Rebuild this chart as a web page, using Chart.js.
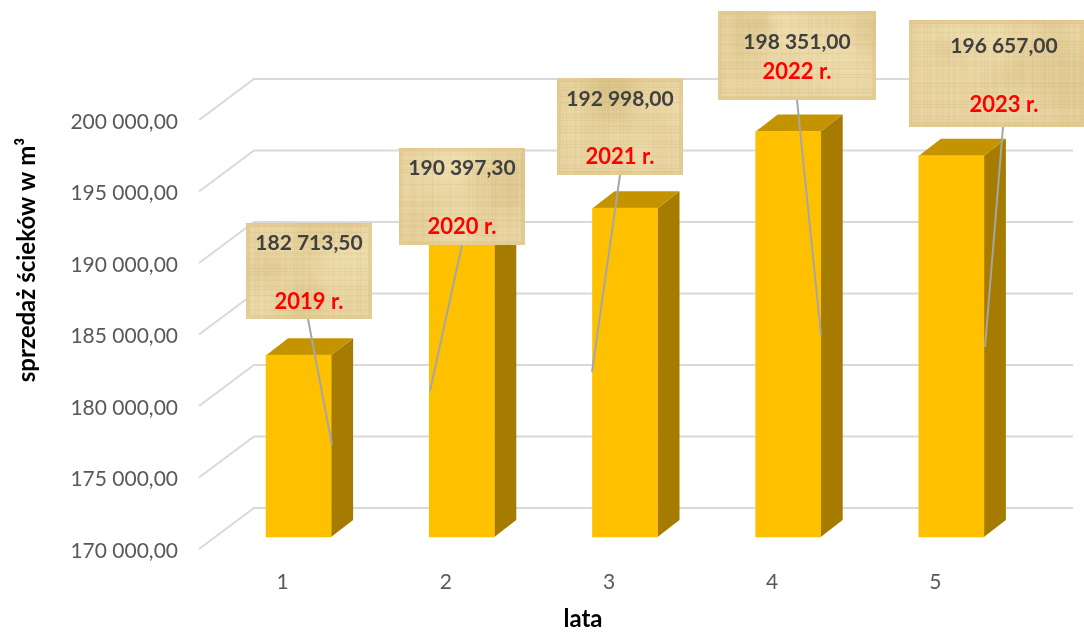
<!DOCTYPE html>
<html>
<head>
<meta charset="utf-8">
<style>
  html, body { margin: 0; padding: 0; background: #fff; }
  canvas { display: block; }
</style>
<script src="https://cdn.jsdelivr.net/npm/chart.js@4"></script>
</head>
<body>
<canvas id="chart" width="1084" height="632"></canvas>
<script>
// Data
const categories = ['1', '2', '3', '4', '5'];
const sales = [182713.5, 190397.3, 192998, 198351, 196657];
const valueLabels = ['182 713,50', '190 397,30', '192 998,00', '198 351,00', '196 657,00'];
const yearLabels = ['2019 r.', '2020 r.', '2021 r.', '2022 r.', '2023 r.'];
const yMin = 170000;
const yMax = 200000;
const yStep = 5000;
const yTitle = 'sprzedaż ścieków w m³';
const xTitle = 'lata';

// Callout layout, one per bar: box, text baselines, leader line
const calloutBoxes = [
  { x: 246, y: 223, w: 126, h: 96, textX: 309, valueY: 243, yearY: 302, from: [308, 319], to: [332, 445] },
  { x: 399, y: 148, w: 126, h: 97, textX: 462, valueY: 168, yearY: 227, from: [462, 245], to: [430, 391] },
  { x: 557, y: 78, w: 126, h: 97, textX: 620, valueY: 99, yearY: 157, from: [620, 175], to: [592, 372] },
  { x: 718, y: 11, w: 158, h: 89, textX: 797, valueY: 42, yearY: 72, from: [797, 100], to: [821, 335] },
  { x: 909, y: 20, w: 175, h: 107, textX: 1004, valueY: 46, yearY: 105, from: [1003, 127], to: [985, 347] }
];

// 3D look
const WALL_DX = 55;
const WALL_DY = 41;
const BAR_SHIFT_X = 16;
const BAR_SHIFT_Y = -12;
const DEPTH_X = 22;
const DEPTH_Y = 17;
const FONT = 'Lato, "Open Sans", sans-serif';

// Repeatable pseudo noise for the papyrus fibres
const noise = n => {
  const s = Math.sin(n * 12.9898) * 43758.5453;
  return s - Math.floor(s);
};

function drawPapyrus(ctx, box, seed) {
  ctx.save();
  ctx.beginPath();
  ctx.rect(box.x, box.y, box.w, box.h);
  ctx.clip();
  ctx.fillStyle = '#e8d3a0';
  ctx.fillRect(box.x, box.y, box.w, box.h);

  for (let i = 0; i < 14; i++) {
    const px = box.x + noise(seed + i) * box.w;
    const py = box.y + noise(seed + i + 40) * box.h;
    const r = 18 + noise(seed + i + 80) * 30;
    const g = ctx.createRadialGradient(px, py, 0, px, py, r);
    const tone = i % 2 ? '241,226,178' : '216,192,132';
    g.addColorStop(0, `rgba(${tone},0.4)`);
    g.addColorStop(1, `rgba(${tone},0)`);
    ctx.fillStyle = g;
    ctx.fillRect(box.x, box.y, box.w, box.h);
  }

  ctx.lineWidth = 1;
  for (let x = box.x; x < box.x + box.w; x += 3) {
    const n = noise(seed + x);
    ctx.strokeStyle = n > 0.5 ? `rgba(248,236,196,${n * 0.16})` : `rgba(190,160,100,${(1 - n) * 0.12})`;
    ctx.beginPath();
    ctx.moveTo(x + 0.5, box.y);
    ctx.lineTo(x + 0.5, box.y + box.h);
    ctx.stroke();
  }
  for (let y = box.y; y < box.y + box.h; y += 3) {
    const n = noise(seed + y * 1.7);
    ctx.strokeStyle = n > 0.5 ? `rgba(248,236,196,${n * 0.16})` : `rgba(180,150,95,${(1 - n) * 0.14})`;
    ctx.beginPath();
    ctx.moveTo(box.x, y + 0.5);
    ctx.lineTo(box.x + box.w, y + 0.5);
    ctx.stroke();
  }

  // slightly darker rim, fading inwards
  ctx.strokeStyle = 'rgba(222,192,130,0.4)';
  ctx.lineWidth = 4;
  ctx.strokeRect(box.x + 2, box.y + 2, box.w - 4, box.h - 4);
  ctx.restore();
}

function fillPoly(ctx, color, pts) {
  ctx.fillStyle = color;
  ctx.beginPath();
  pts.forEach((p, i) => (i ? ctx.lineTo(p[0], p[1]) : ctx.moveTo(p[0], p[1])));
  ctx.closePath();
  ctx.fill();
}

const wallPlugin = {
  id: 'wall',
  beforeDatasetsDraw(chart) {
    const { ctx, scales: { y } } = chart;
    ctx.save();
    ctx.strokeStyle = '#d9d9d9';
    ctx.lineWidth = 2;
    y.ticks.forEach(t => {
      const py = y.getPixelForValue(t.value);
      ctx.beginPath();
      ctx.moveTo(199, py);
      ctx.lineTo(199 + WALL_DX, py - WALL_DY);
      ctx.lineTo(1073, py - WALL_DY);
      ctx.stroke();
    });
    // axis titles are off centre in the reference, so they are placed by hand
    ctx.textAlign = 'center';
    ctx.textBaseline = 'middle';
    ctx.font = `bold 24px ${FONT}`;
    ctx.fillStyle = '#000000';
    ctx.fillText(xTitle, 583, 619);
    ctx.translate(27, 260);
    ctx.rotate(-Math.PI / 2);
    ctx.fillText(yTitle, 0, 0);
    ctx.restore();
  }
};

// Side and top faces come first, the library then draws the front face over them
const barPlugin = {
  id: 'bar3d',
  beforeDatasetDraw(chart, args) {
    const { ctx } = chart;
    ctx.save();
    ctx.translate(BAR_SHIFT_X, BAR_SHIFT_Y);
    args.meta.data.forEach(bar => {
      const { x, y, base, width } = bar.getProps(['x', 'y', 'base', 'width'], true);
      const l = x - width / 2;
      const r = x + width / 2;
      fillPoly(ctx, '#a67c00', [[r, y], [r + DEPTH_X, y - DEPTH_Y], [r + DEPTH_X, base - DEPTH_Y], [r, base]]);
      fillPoly(ctx, '#c49400', [[l, y], [l + DEPTH_X, y - DEPTH_Y], [r + DEPTH_X, y - DEPTH_Y], [r, y]]);
    });
  },
  afterDatasetDraw(chart) {
    chart.ctx.restore();
  }
};

const calloutPlugin = {
  id: 'callouts',
  afterDatasetsDraw(chart) {
    const { ctx } = chart;
    ctx.save();
    ctx.strokeStyle = '#a6a6a6';
    ctx.lineWidth = 2;
    calloutBoxes.forEach(b => {
      ctx.beginPath();
      ctx.moveTo(b.from[0], b.from[1]);
      ctx.lineTo(b.to[0], b.to[1]);
      ctx.stroke();
    });
    calloutBoxes.forEach((b, i) => {
      drawPapyrus(ctx, b, i * 7 + 3);
      ctx.textAlign = 'center';
      ctx.textBaseline = 'middle';
      ctx.font = `bold 21px ${FONT}`;
      ctx.fillStyle = '#404040';
      ctx.fillText(valueLabels[i], b.textX, b.valueY);
      ctx.fillStyle = '#ff0000';
      ctx.font = `bold 22px ${FONT}`;
      ctx.fillText(yearLabels[i], b.textX, b.yearY);
    });
    ctx.restore();
  }
};

new Chart(document.getElementById('chart'), {
  type: 'bar',
  data: {
    labels: categories,
    datasets: [{
      data: sales,
      base: yMin,
      backgroundColor: '#ffc000',
      barThickness: 65,
      clip: false
    }]
  },
  plugins: [wallPlugin, barPlugin, calloutPlugin],
  options: {
    responsive: false,
    animation: false,
    layout: { padding: { top: 120, right: 67, left: 0, bottom: 0 } },
    plugins: { legend: { display: false }, tooltip: { enabled: false } },
    scales: {
      x: {
        grid: { display: false, drawTicks: false },
        border: { display: false },
        ticks: { color: '#595959', font: { family: FONT, size: 21 }, padding: 21, maxRotation: 0 },
        afterFit: s => { s.height = 83; }
      },
      y: {
        min: yMin,
        max: yMax,
        grid: { display: false, drawTicks: false },
        border: { display: false },
        ticks: {
          stepSize: yStep,
          color: '#595959',
          font: { family: FONT, size: 21 },
          padding: 23,
          labelOffset: 2,
          callback: v => v.toString().replace(/\B(?=(\d{3})+$)/g, ' ') + ',00'
        },
        afterFit: s => { s.width = 201; }
      }
    }
  }
});
</script>
</body>
</html>
